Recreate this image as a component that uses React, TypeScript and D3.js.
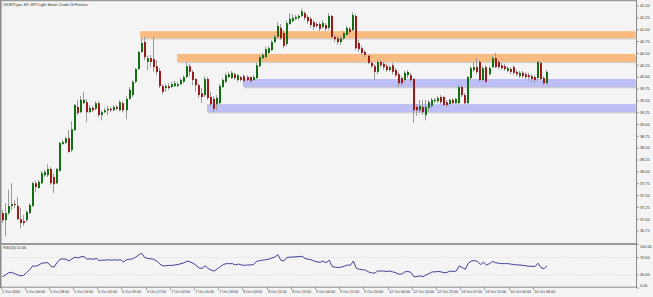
import React from "react";
import * as d3 from "d3";

const title = "OILWTI.pro, H1:  WTI Light Sweet Crude Oil Futures";
const rsiLabel = "RSI(14) 51.66";

// [open, high, low, close]
const candles: [number, number, number, number][] = [
  [37.13, 37.19, 36.92, 36.98], [36.98, 37.34, 36.64, 37.13], [37.13, 37.62, 37.09, 37.28], [37.28, 37.76, 37.19, 37.32],
  [37.32, 37.40, 37.24, 37.30], [37.28, 37.47, 36.98, 37.00], [37.00, 37.24, 36.81, 36.92], [36.96, 37.09, 36.86, 36.92],
  [36.98, 37.19, 36.94, 37.15], [37.13, 37.34, 37.11, 37.30], [37.28, 37.79, 37.26, 37.76], [37.76, 37.81, 37.57, 37.68],
  [37.66, 37.83, 37.64, 37.79], [37.76, 38.02, 37.74, 37.97], [37.93, 38.04, 37.89, 38.00], [37.93, 38.16, 37.89, 38.06],
  [38.06, 38.10, 37.72, 37.76], [37.89, 37.97, 37.55, 37.74], [37.76, 38.08, 37.74, 38.06], [38.02, 38.63, 38.00, 38.61],
  [38.59, 38.67, 38.57, 38.63], [38.61, 38.73, 38.59, 38.71], [38.71, 38.88, 38.40, 38.42], [38.46, 39.07, 38.42, 38.90],
  [38.88, 39.43, 38.86, 39.41], [39.37, 39.52, 39.20, 39.24], [39.26, 39.60, 39.24, 39.52], [39.45, 39.69, 39.43, 39.52],
  [39.47, 39.54, 39.05, 39.26], [39.26, 39.41, 39.24, 39.35], [39.35, 39.39, 39.26, 39.30], [39.33, 39.49, 39.30, 39.45],
  [39.45, 39.49, 39.16, 39.20], [39.20, 39.30, 39.09, 39.26], [39.26, 39.35, 39.24, 39.30], [39.30, 39.39, 39.20, 39.33],
  [39.33, 39.37, 39.26, 39.30], [39.30, 39.41, 39.28, 39.37], [39.37, 39.41, 39.30, 39.33], [39.30, 39.52, 39.28, 39.47],
  [39.45, 39.49, 39.26, 39.30], [39.30, 39.60, 39.11, 39.54], [39.54, 39.79, 39.52, 39.73], [39.62, 39.94, 39.58, 39.90],
  [39.90, 40.19, 39.87, 40.17], [40.17, 40.55, 40.15, 40.53], [40.53, 40.82, 40.51, 40.72], [40.74, 40.85, 40.36, 40.42],
  [40.32, 40.45, 40.15, 40.40], [40.40, 40.47, 40.21, 40.32], [40.38, 40.85, 40.11, 40.21], [40.23, 40.36, 40.04, 40.11],
  [40.13, 40.19, 39.77, 39.81], [39.81, 39.85, 39.64, 39.69], [39.77, 39.85, 39.69, 39.81], [39.81, 39.87, 39.73, 39.77],
  [39.79, 39.90, 39.77, 39.85], [39.81, 39.92, 39.79, 39.87], [39.81, 39.90, 39.79, 39.85], [39.85, 39.98, 39.83, 39.94],
  [39.90, 40.04, 39.87, 40.00], [40.00, 40.32, 39.98, 40.23], [40.23, 40.28, 40.02, 40.11], [40.11, 40.15, 39.83, 39.94],
  [39.96, 39.98, 39.69, 39.83], [39.83, 39.87, 39.56, 39.62], [39.66, 39.77, 39.45, 39.58], [39.62, 40.02, 39.58, 39.96],
  [39.96, 40.00, 39.52, 39.56], [39.58, 39.69, 39.39, 39.43], [39.54, 39.60, 39.26, 39.33], [39.43, 39.62, 39.30, 39.56],
  [39.45, 39.85, 39.43, 39.81], [39.79, 39.98, 39.77, 39.94], [39.90, 40.09, 39.87, 40.04], [40.00, 40.11, 39.98, 40.06],
  [39.98, 40.13, 39.96, 40.09], [40.06, 40.09, 39.94, 39.98], [39.94, 40.06, 39.90, 40.04], [40.00, 40.02, 39.90, 39.94],
  [40.02, 40.06, 39.87, 39.92], [40.00, 40.04, 39.90, 39.94], [40.00, 40.02, 39.87, 39.92], [39.94, 40.04, 39.92, 40.00],
  [39.98, 40.30, 39.96, 40.25], [40.23, 40.47, 40.21, 40.42], [40.40, 40.51, 40.38, 40.47], [40.42, 40.64, 40.40, 40.59],
  [40.51, 40.66, 40.49, 40.61], [40.57, 40.78, 40.55, 40.74], [40.74, 40.89, 40.72, 40.85], [40.85, 41.16, 40.82, 41.08],
  [41.04, 41.12, 40.78, 40.82], [40.93, 40.99, 40.61, 40.66], [40.70, 41.20, 40.66, 41.14], [41.12, 41.35, 41.10, 41.23],
  [41.18, 41.33, 41.16, 41.25], [41.23, 41.31, 41.20, 41.27], [41.25, 41.33, 41.20, 41.29], [41.29, 41.44, 41.27, 41.39],
  [41.35, 41.39, 41.20, 41.25], [41.27, 41.31, 41.12, 41.18], [41.23, 41.27, 41.04, 41.10], [41.16, 41.20, 40.99, 41.06],
  [41.12, 41.16, 41.04, 41.08], [41.12, 41.16, 40.97, 41.02], [41.06, 41.20, 41.02, 41.14], [41.10, 41.14, 40.97, 41.02],
  [41.04, 41.35, 40.99, 41.29], [41.29, 41.31, 40.82, 40.85], [40.85, 40.89, 40.74, 40.80], [40.82, 40.87, 40.68, 40.74],
  [40.74, 40.87, 40.68, 40.82], [40.82, 40.97, 40.78, 40.93], [40.89, 41.08, 40.87, 41.04], [41.02, 41.06, 40.91, 40.95],
  [40.99, 41.37, 40.97, 41.31], [41.29, 41.33, 40.57, 40.61], [40.72, 40.78, 40.53, 40.59], [40.61, 40.66, 40.47, 40.51],
  [40.53, 40.57, 40.42, 40.47], [40.45, 40.47, 40.28, 40.30], [40.30, 40.34, 40.19, 40.23], [40.23, 40.28, 39.94, 40.11],
  [40.11, 40.36, 40.06, 40.32], [40.32, 40.36, 40.21, 40.25], [40.28, 40.32, 40.15, 40.21], [40.23, 40.28, 40.11, 40.15],
  [40.15, 40.25, 40.11, 40.21], [40.25, 40.30, 40.06, 40.11], [40.15, 40.19, 40.00, 40.04], [40.06, 40.11, 39.79, 39.87],
  [39.98, 40.02, 39.81, 39.87], [39.94, 40.13, 39.90, 40.09], [40.04, 40.15, 39.98, 40.11], [40.04, 40.09, 39.90, 39.94],
  [39.96, 39.98, 39.03, 39.30], [39.37, 39.43, 39.18, 39.30], [39.30, 39.52, 39.24, 39.39], [39.37, 39.52, 39.20, 39.26],
  [39.20, 39.52, 39.09, 39.37], [39.35, 39.52, 39.26, 39.47], [39.39, 39.56, 39.35, 39.52], [39.49, 39.56, 39.45, 39.52],
  [39.49, 39.60, 39.45, 39.56], [39.58, 39.62, 39.43, 39.47], [39.58, 39.60, 39.39, 39.41], [39.47, 39.52, 39.37, 39.41],
  [39.43, 39.54, 39.41, 39.52], [39.52, 39.56, 39.43, 39.45], [39.45, 39.56, 39.43, 39.54], [39.45, 39.83, 39.43, 39.79],
  [39.79, 39.83, 39.58, 39.62], [39.62, 39.66, 39.43, 39.45], [39.45, 40.02, 39.43, 40.00], [39.98, 40.23, 39.94, 40.19],
  [40.15, 40.32, 40.11, 40.21], [40.21, 40.40, 40.06, 40.11], [40.32, 40.36, 39.90, 39.94], [39.94, 40.23, 39.92, 40.19],
  [40.21, 40.25, 39.87, 39.90], [40.06, 40.23, 40.04, 40.19], [40.21, 40.45, 40.19, 40.40], [40.40, 40.51, 40.19, 40.21],
  [40.32, 40.36, 40.17, 40.21], [40.25, 40.30, 40.15, 40.19], [40.23, 40.28, 40.13, 40.17], [40.13, 40.23, 40.11, 40.19],
  [40.17, 40.21, 40.06, 40.11], [40.21, 40.25, 40.04, 40.09], [40.11, 40.15, 40.02, 40.06], [40.02, 40.13, 39.98, 40.09],
  [40.09, 40.13, 39.98, 40.02], [40.06, 40.11, 39.96, 40.00], [40.04, 40.09, 39.94, 40.00], [40.02, 40.06, 39.90, 39.96],
  [40.00, 40.04, 39.87, 39.94], [39.98, 40.34, 39.94, 40.32], [40.30, 40.34, 39.94, 39.96], [39.98, 40.02, 39.83, 39.87],
  [39.87, 40.15, 39.85, 40.11],
];

const rsiValues = [
  26, 30, 35, 36, 33, 30, 28, 29, 36, 42, 51, 50, 53, 57, 58, 58, 50, 48, 58, 66,
  67, 66, 62, 67, 71, 69, 72, 72, 66, 67, 66, 68, 63, 64, 64, 65, 64, 65, 64, 65,
  60, 65, 66, 67, 71, 76, 80, 70, 68, 67, 66, 62, 55, 51, 51, 52, 52, 53, 54, 56,
  58, 62, 60, 57, 52, 46, 45, 51, 45, 41, 39, 44, 49, 54, 56, 56, 56, 53, 55, 53,
  52, 53, 53, 54, 61, 63, 64, 65, 66, 69, 71, 77, 64, 62, 70, 71, 71, 72, 72, 73,
  68, 66, 65, 62, 60, 59, 62, 58, 64, 49, 48, 47, 48, 50, 53, 52, 62, 45, 43, 42,
  41, 37, 35, 34, 39, 39, 39, 38, 39, 37, 35, 32, 32, 37, 38, 36, 26, 26, 28, 26,
  30, 33, 37, 37, 38, 37, 35, 36, 39, 38, 39, 51, 47, 43, 57, 62, 63, 61, 54, 59,
  53, 56, 61, 58, 57, 56, 56, 56, 55, 54, 53, 53, 52, 51, 50, 50, 49, 57, 47, 44,
  51,
];

const timeLabels = [
  "2 Oct 2020", "5 Oct 00:00", "5 Oct 08:00", "5 Oct 16:00", "6 Oct 01:00", "6 Oct 09:00",
  "6 Oct 17:00", "7 Oct 02:00", "7 Oct 10:00", "7 Oct 18:00", "8 Oct 03:00", "8 Oct 11:00",
  "8 Oct 19:00", "9 Oct 04:00", "9 Oct 12:00", "9 Oct 20:00", "12 Oct 06:00", "12 Oct 14:00",
  "12 Oct 22:00", "13 Oct 07:00", "13 Oct 15:00", "14 Oct 00:00", "14 Oct 08:00",
];
const timeLabelBars = [0, 8, 16, 24, 32, 40, 48, 56, 64, 72, 80, 88, 96, 104, 112, 120, 128, 136, 144, 152, 160, 168, 176];

const priceTicks = [41.5, 41.25, 41.0, 40.75, 40.5, 40.25, 40.0, 39.75, 39.5, 39.25, 39.0, 38.75, 38.5, 38.25, 38.0, 37.75, 37.5, 37.25, 37.0, 36.75];
const rsiTicks = [100, 70, 30, 0];
const rsiLevels = [70, 30];

const zoneStartBar = [45.5, 57.7, 79.5, 67.6];
const zoneTop = [40.97, 40.49, 39.96, 39.43];
const zoneBottom = [40.82, 40.32, 39.79, 39.26];
const zoneKind = ["resistance", "resistance", "support", "support"];

export default function App() {
  const W = 653, H = 297;
  const axisX = 636;
  const mainTop = 1.3, mainBottom = 242.9;
  const rsiTop = 244.5, rsiBottom = 288;
  const font = "'Liberation Sans', Arial, sans-serif";

  const x = d3.scaleLinear().domain([0, candles.length - 1]).range([2.5, 547]);
  const y = d3.scaleLinear().domain([36.5, 41.6]).range([mainBottom, mainTop]);
  const r = d3.scaleLinear().domain([0, 100]).range([rsiBottom, rsiTop]);

  const rsiPath = d3.line<number>().x((_, i) => x(i)).y((v) => r(v))(rsiValues) || "";

  const zoneFill: Record<string, string> = { resistance: "#f8bc82", support: "#bebef6" };

  return (
    <svg width={W} height={H} style={{ position: "fixed", left: 0, top: 0, display: "block" }} fontFamily={font}>
      <rect x={0} y={0} width={W} height={H} fill="#f4f4f4" />
      {/* zones */}
      {zoneStartBar.map((s, k) => {
        const x0 = x(s);
        const y0 = y(zoneTop[k]);
        const y1 = y(zoneBottom[k]);
        return (
          <g key={"z" + k}>
            <rect x={x0 + 1} y={y0 + 1.2} width={axisX - x0 - 1} height={y1 - y0} fill="#cfcfcf" />
            <rect x={x0} y={y0} width={axisX - x0 - 1} height={y1 - y0} fill={zoneFill[zoneKind[k]]} />
          </g>
        );
      })}
      {/* candles */}
      {candles.map(([o, h, l, c], i) => {
        const cx = Math.round(x(i));
        const bull = c >= o;
        const top = y(Math.max(o, c));
        const bot = y(Math.min(o, c));
        return (
          <g key={"c" + i}>
            <line x1={cx - 0.5} x2={cx - 0.5} y1={y(h)} y2={y(l)} stroke="#9a9a9a" strokeWidth={1} />
            <rect x={cx - 1} y={top} width={2} height={Math.max(1, bot - top)} fill={bull ? "#127012" : "#9c1a1a"} />
          </g>
        );
      })}
      {/* borders */}
      <line x1={0} x2={axisX} y1={0.5} y2={0.5} stroke="#9a9a9a" strokeWidth={1.5} />
      <line x1={0.75} x2={0.75} y1={0} y2={rsiBottom} stroke="#8a8a8a" strokeWidth={1.5} />
      <line x1={axisX + 0.5} x2={axisX + 0.5} y1={0} y2={rsiBottom} stroke="#8c8c8c" strokeWidth={1} />
      <line x1={0} x2={axisX} y1={244} y2={244} stroke="#9a9a9a" strokeWidth={2} />
      <line x1={0} x2={axisX + 1} y1={rsiBottom - 0.8} y2={rsiBottom - 0.8} stroke="#8c8c8c" strokeWidth={1} />
      {/* title */}
      <text x={3} y={6} fontSize={3.7} fill="#222">{title}</text>
      {/* price axis */}
      {priceTicks.map((v) => (
        <g key={"p" + v}>
          <line x1={axisX} x2={axisX + 3} y1={y(v)} y2={y(v)} stroke="#8c8c8c" strokeWidth={0.8} />
          <text x={640} y={y(v)} dy="0.35em" fontSize={3.8} fill="#333">{v.toFixed(2)}</text>
        </g>
      ))}
      {/* rsi panel */}
      {rsiLevels.map((v) => (
        <line key={"l" + v} x1={1} x2={axisX} y1={r(v)} y2={r(v)} stroke="#c8c8c8" strokeWidth={0.6} strokeDasharray="1 1.5" />
      ))}
      <path d={rsiPath} fill="none" stroke="#3f3f98" strokeWidth={1} />
      <text x={3} y={249} fontSize={3.7} fill="#222">{rsiLabel}</text>
      {rsiTicks.map((v) => {
        const yy = Math.min(Math.max(r(v), 246.5), 286);
        return (
          <g key={"r" + v}>
            <line x1={axisX} x2={axisX + 3} y1={r(v)} y2={r(v)} stroke="#8c8c8c" strokeWidth={0.8} />
            <text x={640} y={yy} dy="0.35em" fontSize={3.8} fill="#333">{v.toFixed(2)}</text>
          </g>
        );
      })}
      {/* time axis */}
      {timeLabels.map((t, k) => {
        const tx = Math.round(x(timeLabelBars[k])) - 1.5;
        return (
          <g key={"t" + k}>
            <line x1={tx} x2={tx} y1={rsiBottom - 1} y2={rsiBottom + 2} stroke="#8c8c8c" strokeWidth={0.8} />
            <text x={tx + 0.8} y={293} fontSize={3.6} fill="#333">{t}</text>
          </g>
        );
      })}
    </svg>
  );
}
